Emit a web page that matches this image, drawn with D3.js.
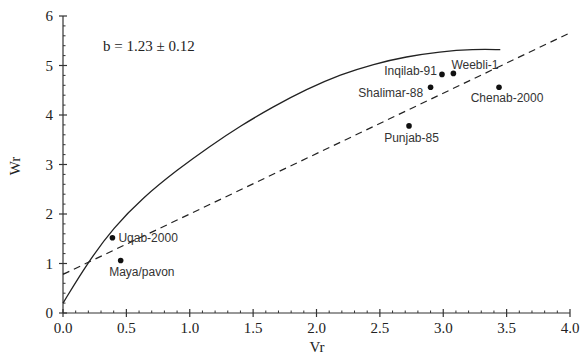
<!DOCTYPE html>
<html lang="en">
<head>
<meta charset="UTF-8">
<script src="https://d3js.org/d3.v7.min.js"></script>
<style>
body { margin: 0; background: #fff; }
svg { display: block; }
.tick-label { font-family: "Liberation Serif", "Times New Roman", serif; font-size: 15px; fill: #222; }
.pt-label { font-family: "Liberation Sans", Arial, sans-serif; font-size: 12px; fill: #333; }
</style>
</head>
<body>
<div id="chart"></div>
<script>
// cultivar points (Vr, Wr)
const names = ["Uqab-2000", "Maya/pavon", "Inqilab-91", "Weebli-1", "Shalimar-88", "Chenab-2000", "Punjab-85"];
const vr = [0.39, 0.455, 2.99, 3.08, 2.90, 3.44, 2.73];
const wr = [1.52, 1.06, 4.82, 4.84, 4.56, 4.56, 3.78];

// regression line: Wr = a + b*Vr
const regA = 0.78;
const regB = 1.22;
const regRange = [0, 4.0];

// limiting curve
const curveVr = [0, 0.19, 0.40, 0.63, 0.90, 1.16, 1.40, 1.66, 1.92, 2.19, 2.45, 2.71, 2.97, 3.24, 3.45];
const curveWr = [0.20, 1.00, 1.73, 2.33, 2.89, 3.37, 3.78, 4.17, 4.52, 4.82, 5.03, 5.18, 5.28, 5.33, 5.32];

const xTicks = [0, 0.5, 1.0, 1.5, 2.0, 2.5, 3.0, 3.5, 4.0];
const yTicks = [0, 1, 2, 3, 4, 5, 6];

// label placement relative to each point
const labelPos = [
  {anchor: "start", dx: 6, dy: 4.5},
  {anchor: "start", dx: -11.5, dy: 15},
  {anchor: "end", dx: -5, dy: 1},
  {anchor: "start", dx: -2, dy: -4},
  {anchor: "end", dx: -7.5, dy: 9.5},
  {anchor: "middle", dx: 8, dy: 15},
  {anchor: "middle", dx: 2.5, dy: 16}
];

const width = 583, height = 355;
const svg = d3.select("#chart").append("svg")
  .attr("width", width).attr("height", height);

const x = d3.scaleLinear().domain([0, 4]).range([63, 570]);
const y = d3.scaleLinear().domain([0, 6]).range([313, 16]);

const axisColor = "#333";

// x axis
const gx = svg.append("g");
gx.append("line").attr("x1", x(0)).attr("x2", x(4)).attr("y1", y(0)).attr("y2", y(0))
  .attr("stroke", axisColor).attr("stroke-width", 1.2);
gx.selectAll(".minor").data(d3.range(1, 40).filter(i => i % 5 !== 0).map(i => i / 10))
  .join("line")
  .attr("x1", d => x(d)).attr("x2", d => x(d))
  .attr("y1", y(0)).attr("y2", y(0) - 2.5)
  .attr("stroke", axisColor).attr("stroke-width", 1);
gx.selectAll(".major").data(xTicks).join("line")
  .attr("x1", d => x(d)).attr("x2", d => x(d))
  .attr("y1", y(0) - 4).attr("y2", y(0) + 4)
  .attr("stroke", axisColor).attr("stroke-width", 1.2);
gx.selectAll("text").data(xTicks).join("text")
  .attr("class", "tick-label")
  .attr("x", d => x(d)).attr("y", 333)
  .attr("text-anchor", "middle")
  .text(d => d.toFixed(1));

// y axis
const gy = svg.append("g");
gy.append("line").attr("x1", x(0)).attr("x2", x(0)).attr("y1", y(0)).attr("y2", y(6))
  .attr("stroke", axisColor).attr("stroke-width", 1.2);
gy.selectAll(".minor").data(d3.range(1, 30).filter(i => i % 5 !== 0).map(i => i / 5))
  .join("line")
  .attr("x1", x(0)).attr("x2", x(0) + 2.5)
  .attr("y1", d => y(d)).attr("y2", d => y(d))
  .attr("stroke", axisColor).attr("stroke-width", 1);
gy.selectAll(".major").data(yTicks).join("line")
  .attr("x1", x(0) - 4).attr("x2", x(0) + 4)
  .attr("y1", d => y(d)).attr("y2", d => y(d))
  .attr("stroke", axisColor).attr("stroke-width", 1.2);
gy.selectAll("text").data(yTicks).join("text")
  .attr("class", "tick-label")
  .attr("x", 53).attr("y", d => y(d) + 5)
  .attr("text-anchor", "end")
  .text(d => d);

// axis titles
svg.append("text").attr("class", "tick-label")
  .attr("x", 317).attr("y", 352).attr("text-anchor", "middle").text("Vr");
svg.append("text").attr("class", "tick-label")
  .attr("transform", "translate(20,166) rotate(-90)")
  .attr("text-anchor", "middle").text("Wr");

svg.append("text").attr("class", "tick-label")
  .attr("x", 103).attr("y", 51).text("b = 1.23 \u00b1 0.12");

// limiting curve
const curvePts = curveVr.map((v, i) => [v, curveWr[i]]);
svg.append("path")
  .attr("d", d3.line().x(d => x(d[0])).y(d => y(d[1])).curve(d3.curveBasis)(curvePts))
  .attr("fill", "none").attr("stroke", "#222").attr("stroke-width", 1.3);

// regression line
svg.append("line")
  .attr("x1", x(regRange[0])).attr("y1", y(regA + regB * regRange[0]))
  .attr("x2", x(regRange[1])).attr("y2", y(regA + regB * regRange[1]))
  .attr("stroke", "#222").attr("stroke-width", 1.2)
  .attr("stroke-dasharray", "7,5");

// points
const pts = names.map((n, i) => ({name: n, vr: vr[i], wr: wr[i], lp: labelPos[i]}));
svg.selectAll(".pt").data(pts).join("circle")
  .attr("cx", d => x(d.vr)).attr("cy", d => y(d.wr)).attr("r", 2.8)
  .attr("fill", "#111");
svg.selectAll(".pt-label").data(pts).join("text")
  .attr("class", "pt-label")
  .attr("x", d => x(d.vr) + d.lp.dx).attr("y", d => y(d.wr) + d.lp.dy)
  .attr("text-anchor", d => d.lp.anchor)
  .text(d => d.name);
</script>
</body>
</html>
